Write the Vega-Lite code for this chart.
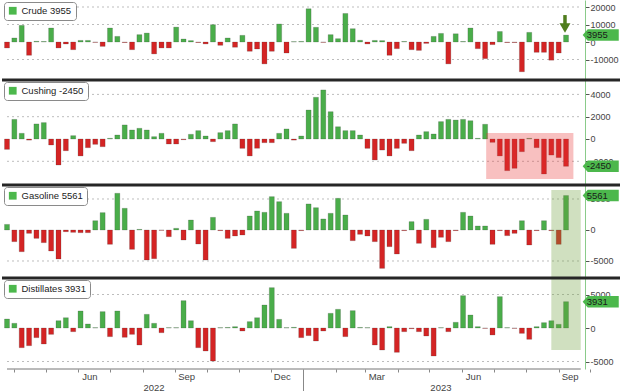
{
  "$schema": "https://vega.github.io/schema/vega-lite/v6.json",
  "padding": 0,
  "background": "white",
  "spacing": 0,
  "bounds": "flush",
  "datasets": {
    "bars": [
      {"d":"2022-03-25","crude":-3400,"cushing":-930,"gasoline":900,"distillates":1340},
      {"d":"2022-04-01","crude":2300,"cushing":1760,"gasoline":-1880,"distillates":700},
      {"d":"2022-04-08","crude":9500,"cushing":510,"gasoline":-3500,"distillates":-2940},
      {"d":"2022-04-15","crude":-7600,"cushing":-100,"gasoline":-540,"distillates":-2640},
      {"d":"2022-04-22","crude":400,"cushing":1350,"gasoline":-1350,"distillates":-1440},
      {"d":"2022-04-29","crude":300,"cushing":1470,"gasoline":-2040,"distillates":-2390},
      {"d":"2022-05-06","crude":8000,"cushing":-540,"gasoline":-3390,"distillates":-950},
      {"d":"2022-05-13","crude":-3400,"cushing":-2330,"gasoline":-4680,"distillates":1090},
      {"d":"2022-05-20","crude":-1100,"cushing":-1050,"gasoline":-270,"distillates":1540},
      {"d":"2022-05-27","crude":-4400,"cushing":300,"gasoline":-380,"distillates":-550},
      {"d":"2022-06-03","crude":900,"cushing":-1520,"gasoline":-430,"distillates":2540},
      {"d":"2022-06-10","crude":900,"cushing":-780,"gasoline":-430,"distillates":600},
      {"d":"2022-06-17","crude":-200,"cushing":-480,"gasoline":1500,"distillates":50},
      {"d":"2022-06-24","crude":-2500,"cushing":-690,"gasoline":2800,"distillates":2440},
      {"d":"2022-07-01","crude":8000,"cushing":60,"gasoline":-2310,"distillates":-1290},
      {"d":"2022-07-08","crude":3200,"cushing":360,"gasoline":5920,"distillates":2540},
      {"d":"2022-07-15","crude":-300,"cushing":1260,"gasoline":3500,"distillates":-1390},
      {"d":"2022-07-22","crude":-4400,"cushing":810,"gasoline":-3120,"distillates":-950},
      {"d":"2022-07-29","crude":4200,"cushing":960,"gasoline":100,"distillates":-2540},
      {"d":"2022-08-05","crude":5100,"cushing":810,"gasoline":-4840,"distillates":2040},
      {"d":"2022-08-12","crude":-6800,"cushing":210,"gasoline":-4630,"distillates":700},
      {"d":"2022-08-19","crude":-3400,"cushing":510,"gasoline":-50,"distillates":-700},
      {"d":"2022-08-26","crude":-3400,"cushing":-450,"gasoline":-1080,"distillates":50},
      {"d":"2022-09-02","crude":8500,"cushing":-450,"gasoline":270,"distillates":50},
      {"d":"2022-09-09","crude":1700,"cushing":-60,"gasoline":-1610,"distillates":4080},
      {"d":"2022-09-16","crude":800,"cushing":420,"gasoline":1610,"distillates":1090},
      {"d":"2022-09-23","crude":-300,"cushing":750,"gasoline":-2260,"distillates":-2940},
      {"d":"2022-09-30","crude":-1100,"cushing":270,"gasoline":-4840,"distillates":-3430},
      {"d":"2022-10-07","crude":9900,"cushing":-240,"gasoline":2040,"distillates":-4930},
      {"d":"2022-10-14","crude":-1900,"cushing":570,"gasoline":-100,"distillates":50},
      {"d":"2022-10-21","crude":2300,"cushing":750,"gasoline":-1350,"distillates":80},
      {"d":"2022-10-28","crude":-3000,"cushing":1350,"gasoline":-970,"distillates":200},
      {"d":"2022-11-04","crude":3800,"cushing":-840,"gasoline":-810,"distillates":-450},
      {"d":"2022-11-11","crude":-5300,"cushing":-1520,"gasoline":2260,"distillates":950},
      {"d":"2022-11-18","crude":-4000,"cushing":-840,"gasoline":3070,"distillates":1540},
      {"d":"2022-11-25","crude":-12500,"cushing":-330,"gasoline":2850,"distillates":3430},
      {"d":"2022-12-02","crude":-5300,"cushing":-330,"gasoline":5380,"distillates":6020},
      {"d":"2022-12-09","crude":10300,"cushing":510,"gasoline":4570,"distillates":1290},
      {"d":"2022-12-16","crude":-6300,"cushing":900,"gasoline":2690,"distillates":50},
      {"d":"2022-12-23","crude":200,"cushing":-100,"gasoline":-2960,"distillates":100},
      {"d":"2022-12-30","crude":300,"cushing":270,"gasoline":-100,"distillates":-1440},
      {"d":"2023-01-06","crude":19000,"cushing":2600,"gasoline":4200,"distillates":-1140},
      {"d":"2023-01-13","crude":8400,"cushing":3740,"gasoline":3600,"distillates":-1940},
      {"d":"2023-01-20","crude":-200,"cushing":4400,"gasoline":1780,"distillates":-450},
      {"d":"2023-01-27","crude":4200,"cushing":2450,"gasoline":2690,"distillates":2190},
      {"d":"2023-02-03","crude":1900,"cushing":1100,"gasoline":5110,"distillates":2790},
      {"d":"2023-02-10","crude":16300,"cushing":750,"gasoline":2420,"distillates":-1290},
      {"d":"2023-02-17","crude":7600,"cushing":750,"gasoline":-1720,"distillates":2590},
      {"d":"2023-02-24","crude":1000,"cushing":360,"gasoline":-700,"distillates":80},
      {"d":"2023-03-03","crude":-1100,"cushing":-840,"gasoline":-970,"distillates":50},
      {"d":"2023-03-10","crude":900,"cushing":-1880,"gasoline":-1880,"distillates":-2540},
      {"d":"2023-03-17","crude":800,"cushing":-990,"gasoline":-6190,"distillates":-3280},
      {"d":"2023-03-24","crude":-7600,"cushing":-1520,"gasoline":-2690,"distillates":200},
      {"d":"2023-03-31","crude":-3800,"cushing":-840,"gasoline":-3870,"distillates":-3630},
      {"d":"2023-04-07","crude":300,"cushing":-390,"gasoline":-100,"distillates":-550},
      {"d":"2023-04-14","crude":-4400,"cushing":-1050,"gasoline":1350,"distillates":-100},
      {"d":"2023-04-21","crude":-4800,"cushing":360,"gasoline":-2150,"distillates":-550},
      {"d":"2023-04-28","crude":-800,"cushing":660,"gasoline":1720,"distillates":-1190},
      {"d":"2023-05-05","crude":3200,"cushing":450,"gasoline":-2850,"distillates":-4180},
      {"d":"2023-05-12","crude":4900,"cushing":1560,"gasoline":-1180,"distillates":50},
      {"d":"2023-05-19","crude":-12500,"cushing":1760,"gasoline":-1880,"distillates":-550},
      {"d":"2023-05-26","crude":4700,"cushing":1700,"gasoline":-100,"distillates":850},
      {"d":"2023-06-02","crude":300,"cushing":1760,"gasoline":2850,"distillates":4830},
      {"d":"2023-06-09","crude":8000,"cushing":1640,"gasoline":2260,"distillates":1940},
      {"d":"2023-06-16","crude":-3800,"cushing":60,"gasoline":650,"distillates":200},
      {"d":"2023-06-23","crude":-9500,"cushing":1320,"gasoline":650,"distillates":-50},
      {"d":"2023-06-30","crude":-1500,"cushing":-300,"gasoline":-2310,"distillates":-1040},
      {"d":"2023-07-07","crude":6000,"cushing":-1520,"gasoline":-100,"distillates":4680},
      {"d":"2023-07-14","crude":-300,"cushing":-2840,"gasoline":-910,"distillates":50},
      {"d":"2023-07-21","crude":-300,"cushing":-2630,"gasoline":-540,"distillates":-50},
      {"d":"2023-07-28","crude":-17000,"cushing":-1140,"gasoline":1500,"distillates":-800},
      {"d":"2023-08-04","crude":5500,"cushing":60,"gasoline":-2420,"distillates":-1690},
      {"d":"2023-08-11","crude":-5900,"cushing":-780,"gasoline":-100,"distillates":200},
      {"d":"2023-08-18","crude":-5900,"cushing":-3140,"gasoline":1500,"distillates":800},
      {"d":"2023-08-25","crude":-10400,"cushing":-1440,"gasoline":-100,"distillates":1090},
      {"d":"2023-09-01","crude":-6300,"cushing":-1670,"gasoline":-2310,"distillates":550},
      {"d":"2023-09-08","crude":3955,"cushing":-2450,"gasoline":5561,"distillates":3931}
    ]
  },
  "vconcat": [
    {
      "width": 620, "height": 80,
      "layer": [
        {"data": {"values": [{"v": 20000}, {"v": 10000}, {"v": -10000}]},
         "mark": {"type": "rule", "color": "#bdbdbd", "strokeDash": [2, 3], "strokeWidth": 1},
         "encoding": {"y": {"field": "v", "type": "quantitative", "axis": {"values": [-10000, 0, 10000, 20000], "labelOverlap": false, "labelSeparation": 0}},
                      "x": {"datum": {"year": 2022, "month": 3, "date": 25, "utc": true}},
                      "x2": {"datum": {"year": 2023, "month": 9, "date": 22, "utc": true}}}},
        {"data": {"name": "bars"},
         "mark": {"type": "bar", "size": 5, "clip": true, "stroke": "#333", "strokeWidth": 0.4, "strokeOpacity": 0.5},
         "encoding": {
           "x": {"field": "d", "type": "temporal",
                 "scale": {"type": "utc", "domain": [{"year": 2022, "month": 3, "date": 25, "utc": true}, {"year": 2023, "month": 10, "date": 26, "hours": 12, "utc": true}]},
                 "axis": {"labels": false, "ticks": false}},
           "y": {"field": "crude", "type": "quantitative",
                 "scale": {"domain": [-21714, 24000], "nice": false, "zero": false},
                 "axis": {"values": [-10000, 0, 10000, 20000], "labelOverlap": false, "labelSeparation": 0}},
           "color": {"condition": {"test": "datum.crude<0", "value": "#d42424"}, "value": "#4aad4a"}
         }},
        {"data": {"values": [{}]},
         "mark": {"type": "rule", "color": "#4f7d1d", "strokeWidth": 3.5},
         "encoding": {"x": {"datum": {"year": 2023, "month": 9, "date": 7, "utc": true}},
                      "y": {"datum": 15400, "axis": {"values": [-10000, 0, 10000, 20000], "labelOverlap": false, "labelSeparation": 0}}, "y2": {"datum": 9700}}},
        {"data": {"values": [{}]},
         "mark": {"type": "point", "shape": "triangle-down", "size": 120, "filled": true, "color": "#4f7d1d", "opacity": 1},
         "encoding": {"x": {"datum": {"year": 2023, "month": 9, "date": 7, "utc": true}},
                      "y": {"datum": 8000, "axis": {"values": [-10000, 0, 10000, 20000], "labelOverlap": false, "labelSeparation": 0}}}},
        {"data": {"values": [{"name": "Crude 3955", "v": 3955}]},
         "mark": {"type": "point", "shape": "M-1,0L-0.72,-0.32L1,-0.32L1,0.32L-0.72,0.32Z", "size": 1300, "filled": true, "opacity": 1},
         "encoding": {"x": {"datum": {"year": 2023, "month": 10, "date": 11, "utc": true}},
                      "y": {"field": "v", "type": "quantitative", "axis": {"values": [-10000, 0, 10000, 20000], "labelOverlap": false, "labelSeparation": 0}},
                      "color": {"field": "name", "type": "nominal", "scale": {"range": ["#4cb84c"]}, "legend": {"title": null}}}},
        {"data": {"values": [{"v": 3955, "t": "3955"}]},
         "mark": {"type": "text", "align": "left", "dx": -14, "fontSize": 9.5, "font": "Liberation Sans", "color": "#1a1a1a"},
         "encoding": {"x": {"datum": {"year": 2023, "month": 10, "date": 11, "utc": true}},
                      "y": {"field": "v", "type": "quantitative", "axis": {"values": [-10000, 0, 10000, 20000], "labelOverlap": false, "labelSeparation": 0}},
                      "text": {"field": "t"}}}
      ]
    },
    {
      "width": 620, "height": 105,
      "layer": [
        {"data": {"values": [{"v": 4000}, {"v": 2000}, {"v": -2000}]},
         "mark": {"type": "rule", "color": "#bdbdbd", "strokeDash": [2, 3], "strokeWidth": 1},
         "encoding": {"y": {"field": "v", "type": "quantitative", "axis": {"values": [-2000, 0, 2000, 4000], "labelOverlap": false, "labelSeparation": 0}},
                      "x": {"datum": {"year": 2022, "month": 3, "date": 25, "utc": true}},
                      "x2": {"datum": {"year": 2023, "month": 9, "date": 22, "utc": true}}}},
        {"data": {"name": "bars"},
         "mark": {"type": "bar", "size": 5, "clip": true, "stroke": "#333", "strokeWidth": 0.4, "strokeOpacity": 0.5},
         "encoding": {
           "x": {"field": "d", "type": "temporal",
                 "scale": {"type": "utc", "domain": [{"year": 2022, "month": 3, "date": 25, "utc": true}, {"year": 2023, "month": 10, "date": 26, "hours": 12, "utc": true}]},
                 "axis": {"labels": false, "ticks": false}},
           "y": {"field": "cushing", "type": "quantitative",
                 "scale": {"domain": [-4126, 5292], "nice": false, "zero": false},
                 "axis": {"values": [-2000, 0, 2000, 4000], "labelOverlap": false, "labelSeparation": 0}},
           "color": {"condition": {"test": "datum.cushing<0", "value": "#d42424"}, "value": "#4aad4a"}
         }},
        {"data": {"values": [{}]},
         "mark": {"type": "rect", "color": "#e8302f", "opacity": 0.3},
         "encoding": {"x": {"datum": {"year": 2023, "month": 6, "date": 24, "utc": true}},
                      "x2": {"datum": {"year": 2023, "month": 9, "date": 15, "utc": true}},
                      "y": {"datum": 540, "axis": {"values": [-2000, 0, 2000, 4000], "labelOverlap": false, "labelSeparation": 0}}, "y2": {"datum": -3590}}},
        {"data": {"values": [{"name": "Cushing -2450", "v": -2450}]},
         "mark": {"type": "point", "shape": "M-1,0L-0.72,-0.32L1,-0.32L1,0.32L-0.72,0.32Z", "size": 1300, "filled": true, "opacity": 1},
         "encoding": {"x": {"datum": {"year": 2023, "month": 10, "date": 11, "utc": true}},
                      "y": {"field": "v", "type": "quantitative", "axis": {"values": [-2000, 0, 2000, 4000], "labelOverlap": false, "labelSeparation": 0}},
                      "color": {"field": "name", "type": "nominal", "scale": {"range": ["#4cb84c"]}, "legend": {"title": null}}}},
        {"data": {"values": [{"v": -2450, "t": "-2450"}]},
         "mark": {"type": "text", "align": "left", "dx": -14, "fontSize": 9.5, "font": "Liberation Sans", "color": "#1a1a1a"},
         "encoding": {"x": {"datum": {"year": 2023, "month": 10, "date": 11, "utc": true}},
                      "y": {"field": "v", "type": "quantitative", "axis": {"values": [-2000, 0, 2000, 4000], "labelOverlap": false, "labelSeparation": 0}},
                      "text": {"field": "t"}}},
        {"data": {"values": [{}]},
         "mark": {"type": "rule", "color": "#262626", "strokeWidth": 3},
         "encoding": {"y": {"datum": 5292, "axis": {"values": [-2000, 0, 2000, 4000], "labelOverlap": false, "labelSeparation": 0}}}}
      ]
    },
    {
      "width": 620, "height": 93,
      "layer": [
        {"data": {"values": [{"v": 5000}, {"v": -5000}]},
         "mark": {"type": "rule", "color": "#bdbdbd", "strokeDash": [2, 3], "strokeWidth": 1},
         "encoding": {"y": {"field": "v", "type": "quantitative", "axis": {"values": [-5000, 0, 5000], "labelOverlap": false}},
                      "x": {"datum": {"year": 2022, "month": 3, "date": 25, "utc": true}},
                      "x2": {"datum": {"year": 2023, "month": 9, "date": 22, "utc": true}}}},
        {"data": {"name": "bars"},
         "mark": {"type": "bar", "size": 5, "clip": true, "stroke": "#333", "strokeWidth": 0.4, "strokeOpacity": 0.5},
         "encoding": {
           "x": {"field": "d", "type": "temporal",
                 "scale": {"type": "utc", "domain": [{"year": 2022, "month": 3, "date": 25, "utc": true}, {"year": 2023, "month": 10, "date": 26, "hours": 12, "utc": true}]},
                 "axis": {"labels": false, "ticks": false}},
           "y": {"field": "gasoline", "type": "quantitative",
                 "scale": {"domain": [-7742, 7258], "nice": false, "zero": false},
                 "axis": {"values": [-5000, 0, 5000], "labelOverlap": false}},
           "color": {"condition": {"test": "datum.gasoline<0", "value": "#d42424"}, "value": "#4aad4a"}
         }},
        {"data": {"values": [{}]},
         "mark": {"type": "rect", "color": "#6ea03c", "opacity": 0.32},
         "encoding": {"x": {"datum": {"year": 2023, "month": 8, "date": 25, "utc": true}},
                      "x2": {"datum": {"year": 2023, "month": 9, "date": 22, "utc": true}},
                      "y": {"datum": 6450, "axis": {"values": [-5000, 0, 5000], "labelOverlap": false}}, "y2": {"datum": -7742}}},
        {"data": {"values": [{"name": "Gasoline 5561", "v": 5561}]},
         "mark": {"type": "point", "shape": "M-1,0L-0.72,-0.32L1,-0.32L1,0.32L-0.72,0.32Z", "size": 1300, "filled": true, "opacity": 1},
         "encoding": {"x": {"datum": {"year": 2023, "month": 10, "date": 11, "utc": true}},
                      "y": {"field": "v", "type": "quantitative", "axis": {"values": [-5000, 0, 5000], "labelOverlap": false}},
                      "color": {"field": "name", "type": "nominal", "scale": {"range": ["#4cb84c"]}, "legend": {"title": null}}}},
        {"data": {"values": [{"v": 5561, "t": "5561"}]},
         "mark": {"type": "text", "align": "left", "dx": -14, "fontSize": 9.5, "font": "Liberation Sans", "color": "#1a1a1a"},
         "encoding": {"x": {"datum": {"year": 2023, "month": 10, "date": 11, "utc": true}},
                      "y": {"field": "v", "type": "quantitative", "axis": {"values": [-5000, 0, 5000], "labelOverlap": false}},
                      "text": {"field": "t"}}},
        {"data": {"values": [{}]},
         "mark": {"type": "rule", "color": "#262626", "strokeWidth": 3},
         "encoding": {"y": {"datum": 7258, "axis": {"values": [-5000, 0, 5000], "labelOverlap": false}}}}
      ]
    },
    {
      "width": 620, "height": 91,
      "layer": [
        {"data": {"values": [{"v": 5000}, {"v": -5000}]},
         "mark": {"type": "rule", "color": "#bdbdbd", "strokeDash": [2, 3], "strokeWidth": 1},
         "encoding": {"y": {"field": "v", "type": "quantitative", "axis": {"values": [-5000, 0, 5000], "labelOverlap": false}},
                      "x": {"datum": {"year": 2022, "month": 3, "date": 25, "utc": true}},
                      "x2": {"datum": {"year": 2023, "month": 9, "date": 22, "utc": true}}}},
        {"data": {"name": "bars"},
         "mark": {"type": "bar", "size": 5, "clip": true, "stroke": "#333", "strokeWidth": 0.4, "strokeOpacity": 0.5},
         "encoding": {
           "x": {"field": "d", "type": "temporal",
                 "scale": {"type": "utc", "domain": [{"year": 2022, "month": 3, "date": 25, "utc": true}, {"year": 2023, "month": 10, "date": 26, "hours": 12, "utc": true}]},
                 "axis": {"ticks": true, "tickColor": "#888",
                          "tickSize": {"condition": {"test": "utcmonth(datum.value)==0", "value": 22}, "value": 3},
                          "labelExpr": "(utcmonth(datum.value)+1)%3==0 ? utcFormat(datum.value,'%b') : (utcyear(datum.value)==2022 && utcmonth(datum.value)==7) ? ['', '2022'] : (utcyear(datum.value)==2023 && utcmonth(datum.value)==4) ? ['', '2023'] : ''",
                          "labelOffset": 11, "labelPadding": -1, "labelFontSize": 9.5, "labelColor": "#444", "labelFont": "Liberation Sans",
                          "labelFlush": false, "labelLineHeight": 11, "labelBaseline": "top"}},
           "y": {"field": "distillates", "type": "quantitative",
                 "scale": {"domain": [-6119, 7463], "nice": false, "zero": false},
                 "axis": {"values": [-5000, 0, 5000], "labelOverlap": false}},
           "color": {"condition": {"test": "datum.distillates<0", "value": "#d42424"}, "value": "#4aad4a"}
         }},
        {"data": {"values": [{}]},
         "mark": {"type": "rect", "color": "#6ea03c", "opacity": 0.32},
         "encoding": {"x": {"datum": {"year": 2023, "month": 8, "date": 25, "utc": true}},
                      "x2": {"datum": {"year": 2023, "month": 9, "date": 22, "utc": true}},
                      "y": {"datum": 7463, "axis": {"values": [-5000, 0, 5000], "labelOverlap": false}}, "y2": {"datum": -3280}}},
        {"data": {"values": [{}]},
         "mark": {"type": "rule", "color": "#777", "strokeWidth": 1},
         "encoding": {"y": {"datum": -6119, "axis": {"values": [-5000, 0, 5000], "labelOverlap": false}},
                      "x": {"datum": {"year": 2022, "month": 3, "date": 25, "utc": true}},
                      "x2": {"datum": {"year": 2023, "month": 9, "date": 22, "utc": true}}}},
        {"data": {"values": [{"name": "Distillates 3931", "v": 3931}]},
         "mark": {"type": "point", "shape": "M-1,0L-0.72,-0.32L1,-0.32L1,0.32L-0.72,0.32Z", "size": 1300, "filled": true, "opacity": 1},
         "encoding": {"x": {"datum": {"year": 2023, "month": 10, "date": 11, "utc": true}},
                      "y": {"field": "v", "type": "quantitative", "axis": {"values": [-5000, 0, 5000], "labelOverlap": false}},
                      "color": {"field": "name", "type": "nominal", "scale": {"range": ["#4cb84c"]}, "legend": {"title": null}}}},
        {"data": {"values": [{"v": 3931, "t": "3931"}]},
         "mark": {"type": "text", "align": "left", "dx": -14, "fontSize": 9.5, "font": "Liberation Sans", "color": "#1a1a1a"},
         "encoding": {"x": {"datum": {"year": 2023, "month": 10, "date": 11, "utc": true}},
                      "y": {"field": "v", "type": "quantitative", "axis": {"values": [-5000, 0, 5000], "labelOverlap": false}},
                      "text": {"field": "t"}}},
        {"data": {"values": [{}]},
         "mark": {"type": "rule", "color": "#262626", "strokeWidth": 3},
         "encoding": {"y": {"datum": 7463, "axis": {"values": [-5000, 0, 5000], "labelOverlap": false}}}}
      ]
    }
  ],
  "resolve": {"scale": {"color": "independent"}, "legend": {"color": "independent"}},
  "config": {
    "view": {"stroke": null},
    "axisX": {"title": null, "domain": false, "grid": true, "gridColor": "#bdbdbd", "gridDash": [2, 3],
              "gridOpacity": {"condition": {"test": "utcmonth(datum.value)%3==0", "value": 1}, "value": 0},
              "tickCount": {"interval": "month", "step": 1}, "labelOverlap": false, "labelBound": false},
    "axisY": {"orient": "right", "offset": -37, "title": null, "grid": false,
              "domainColor": "#8acb8a", "tickColor": "#555", "tickSize": 4, "labelFontSize": 9, "labelColor": "#444",
              "labelFont": "Liberation Sans", "labelPadding": 1, "labelFlush": false, "labelOverlap": false,
              "labelExpr": "datum.value < 0 ? '-' + format(-datum.value, 'd') : format(datum.value, 'd')",
              "labelBound": false, "labelSeparation": 0},
    "legend": {"orient": "top-left", "offset": 2, "padding": 4, "fillColor": "white", "strokeColor": "#8a8a8a", "cornerRadius": 3,
               "symbolType": "square", "symbolSize": 60, "symbolStrokeWidth": 0, "labelFontSize": 9.5, "labelFont": "Liberation Sans",
               "labelColor": "#222", "labelLimit": 200}
  }
}
